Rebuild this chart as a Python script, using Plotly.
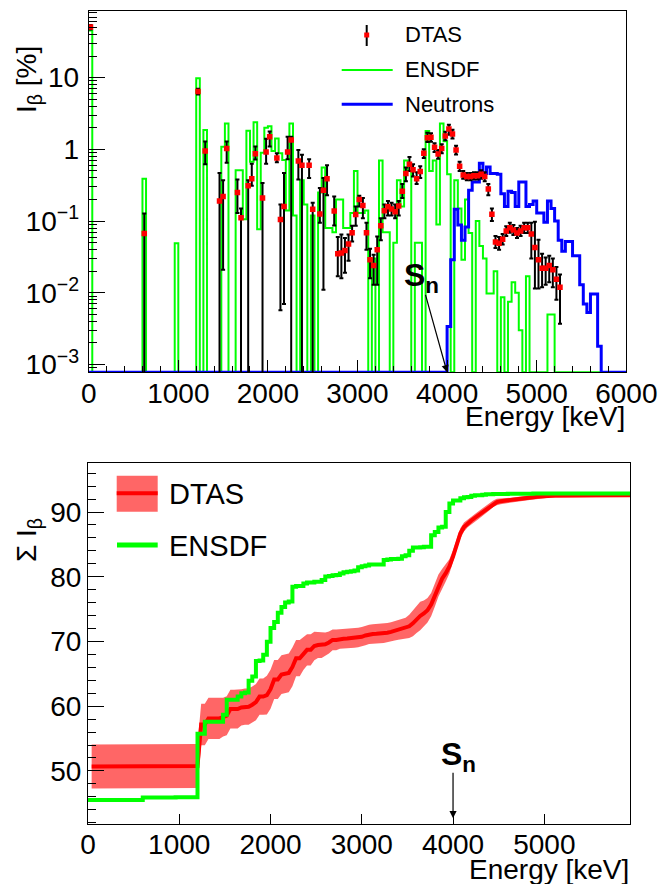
import numpy as np
import plotly.graph_objects as go

# ---------------- data ----------------
BIN_WIDTH = 40.0
N_BINS = 150
SN_ENERGY = 4000.0

# DTAS beta intensity (%) : bin centre (keV), value, lower bound, upper bound
dtas_energy = [20, 620, 1220, 1300, 1460, 1500, 1540, 1660, 1700, 1780, 1820, 1860, 1940, 1980,
               2020, 2100, 2140, 2180, 2220, 2260, 2340, 2380, 2460, 2500, 2580, 2620, 2660, 2740,
               2780, 2820, 2860, 2900, 2940, 2980, 3020, 3060, 3100, 3140, 3180, 3220, 3260, 3300,
               3340, 3380, 3420, 3460, 3500, 3540, 3580, 3620, 3660, 3700, 3740, 3780, 3820, 3860,
               3900, 3940, 3980, 4020, 4060, 4100, 4140, 4180, 4220, 4260, 4300, 4340, 4380, 4420,
               4460, 4500, 4540, 4580, 4620, 4660, 4700, 4740, 4780, 4820, 4860, 4900, 4940, 4980,
               5020, 5060, 5100, 5140, 5180, 5220, 5260]
dtas_value = [50.7, 0.067, 6.4, 0.95, 0.19, 0.22, 1.03, 0.25, 0.111, 0.31, 0.39, 0.87, 0.21, 0.92,
              1.5, 0.76, 0.105, 0.16, 0.92, 1.35, 0.69, 0.60, 0.60, 0.146, 0.126, 0.27, 0.39, 0.138,
              0.035, 0.036, 0.039, 0.048, 0.069, 0.124, 0.20, 0.165, 0.069, 0.029, 0.024, 0.040, 0.086, 0.139,
              0.158, 0.148, 0.135, 0.162, 0.26, 0.46, 0.62, 0.52, 0.39, 0.49, 0.88, 1.45, 1.48, 1.07,
              0.86, 1.03, 1.54, 1.92, 1.64, 0.98, 0.58, 0.44, 0.42, 0.42, 0.43, 0.43, 0.45, 0.42,
              0.28, 0.125, 0.051, 0.049, 0.056, 0.073, 0.081, 0.075, 0.068, 0.073, 0.081, 0.081, 0.066, 0.043,
              0.029, 0.022, 0.022, 0.024, 0.021, 0.0155, 0.012]
dtas_low = [47.0, 0.0, 5.8, 0.62, 0.0, 0.021, 0.65, 0.13, 0.0, 0.0, 0.31, 0.72, 0.0, 0.63,
            1.1, 0.66, 0.0057, 0.007, 0.73, 0.0, 0.38, 0.0, 0.40, 0.0, 0.095, 0.011, 0.23, 0.087,
            0.017, 0.016, 0.019, 0.028, 0.052, 0.086, 0.16, 0.11, 0.04, 0.016, 0.013, 0.013, 0.054, 0.11,
            0.12, 0.12, 0.11, 0.12, 0.21, 0.36, 0.50, 0.42, 0.33, 0.40, 0.76, 1.27, 1.28, 0.92,
            0.74, 0.88, 1.34, 1.6, 1.42, 0.85, 0.50, 0.39, 0.37, 0.37, 0.38, 0.38, 0.39, 0.36,
            0.23, 0.10, 0.042, 0.040, 0.047, 0.062, 0.069, 0.064, 0.058, 0.062, 0.068, 0.068, 0.030, 0.0115,
            0.0115, 0.012, 0.013, 0.014, 0.012, 0.008, 0.0037]
dtas_high = [54.0, 0.128, 7.0, 1.29, 0.47, 0.37, 1.29, 0.38, 0.15, 0.37, 0.63, 1.1, 0.34, 1.41,
             1.77, 0.88, 0.17, 0.47, 1.5, 1.5, 0.98, 0.84, 0.73, 0.18, 0.29, 0.40, 0.60, 0.22,
             0.06, 0.065, 0.058, 0.065, 0.086, 0.16, 0.225, 0.21, 0.095, 0.041, 0.034, 0.061, 0.11, 0.17,
             0.19, 0.18, 0.17, 0.19, 0.33, 0.56, 0.78, 0.62, 0.48, 0.58, 1.0, 1.7, 1.68, 1.22,
             0.98, 1.18, 1.76, 2.2, 1.88, 1.12, 0.67, 0.50, 0.47, 0.47, 0.48, 0.48, 0.51, 0.48,
             0.33, 0.15, 0.062, 0.060, 0.066, 0.085, 0.095, 0.088, 0.080, 0.086, 0.095, 0.095, 0.095, 0.098,
             0.055, 0.035, 0.031, 0.033, 0.030, 0.023, 0.018]
# uncertainty of the cumulative DTAS intensity at each DTAS bin
dtas_cum_err = [3.4, 3.4, 3.2, 3.2, 3.0, 3.0, 3.0, 2.8, 2.8, 2.8, 2.8, 2.8, 3.0, 3.0,
                3.0, 3.0, 3.0, 3.0, 3.0, 2.8, 2.5, 2.4, 2.2, 2.0, 1.8, 1.7, 1.6, 1.5,
                1.5, 1.5, 1.5, 1.5, 1.5, 1.5, 1.5, 1.5, 1.5, 1.5, 1.5, 1.5, 1.5, 1.5,
                1.5, 1.5, 1.5, 1.6, 1.8, 2.0, 2.1, 2.2, 2.0, 1.9, 1.8, 1.8, 1.7, 1.5,
                1.3, 1.1, 1.0, 0.9, 0.8, 0.7, 0.6, 0.6, 0.6, 0.6, 0.6, 0.6, 0.55, 0.5,
                0.5, 0.45, 0.4, 0.4, 0.4, 0.4, 0.4, 0.35, 0.35, 0.35, 0.35, 0.35, 0.35, 0.35,
                0.3, 0.3, 0.3, 0.3, 0.3, 0.3, 0.3]

# ENSDF beta intensity (%) : bin lower edge (keV), value
ensdf_energy = [0, 600, 960, 1200, 1280, 1480, 1520, 1640, 1680, 1720, 1760, 1800, 1840, 1880, 1920,
                1960, 2000, 2040, 2080, 2120, 2160, 2200, 2240, 2280, 2360, 2400, 2480, 2560, 2600,
                2640, 2680, 2720, 2760, 2800, 2840, 2880, 2920, 2960, 3000, 3040, 3080, 3160, 3240,
                3280, 3320, 3400, 3440, 3480, 3520, 3560, 3640, 3680, 3760, 3800, 3840, 3880, 3920,
                3960, 4000, 4080, 4120, 4160, 4200, 4240, 4320, 4360, 4400, 4440, 4480, 4520, 4600,
                4680, 4720, 4760, 4800, 4880, 5120, 5160]
ensdf_value = [45.5, 0.39, 0.049, 9.8, 1.86, 1.09, 2.3, 0.51, 0.51, 0.106, 1.82, 0.67, 2.38, 0.077, 0.9,
               2.0, 2.1, 0.95, 1.42, 0.88, 0.71, 0.14, 2.3, 0.12, 0.37, 0.17, 0.12, 0.25, 0.56,
               0.08, 0.08, 0.07, 0.2, 0.2, 0.08, 0.08, 0.13, 0.5, 0.13, 0.13, 0.14, 0.03, 0.7,
               0.07, 0.07, 0.05, 0.37, 0.16, 0.7, 0.5, 0.05, 0.05, 1.8, 0.5, 0.7, 0.09, 2.3,
               1.3, 0.45, 0.37, 0.15, 0.029, 0.2, 0.068, 0.1, 0.045, 0.03, 0.0098, 0.0098, 0.02, 0.0087,
               0.0075, 0.014, 0.01, 0.003, 0.017, 0.005, 0.005]

# beta-delayed neutron intensity (%) : bin lower edge (keV), value
neutron_energy = [4000, 4040, 4080, 4120, 4160, 4200, 4240, 4280, 4320, 4360, 4400, 4440, 4480, 4520,
                  4560, 4600, 4640, 4680, 4720, 4760, 4800, 4840, 4880, 4920, 4960, 5000, 5040, 5080,
                  5120, 5160, 5200, 5240, 5280, 5320, 5360, 5400, 5440, 5480, 5520, 5560, 5600, 5640, 5680]
neutron_value = [0.0034, 0.029, 0.146, 0.088, 0.054, 0.083, 0.27, 0.35, 0.35, 0.64, 0.46, 0.57, 0.46, 0.46,
                 0.45, 0.24, 0.16, 0.26, 0.25, 0.16, 0.35, 0.35, 0.16, 0.17, 0.19, 0.13, 0.13, 0.096,
                 0.19, 0.15, 0.10, 0.054, 0.038, 0.052, 0.052, 0.033, 0.033, 0.013, 0.007, 0.0053, 0.0096, 0.0096, 0.0018]

# ---------------- derived ----------------
edges = np.arange(N_BINS + 1) * BIN_WIDTH
Y_LOG_MIN, Y_LOG_MAX = -3.108, 1.929
floor_val = 10 ** Y_LOG_MIN


def to_bins(energies, values, centre=False):
    arr = np.zeros(N_BINS)
    for e, v in zip(energies, values):
        idx = int(e // BIN_WIDTH) if centre else int(round(e / BIN_WIDTH))
        arr[idx] = v
    return arr


ensdf_bins = to_bins(ensdf_energy, ensdf_value)
neut_bins = to_bins(neutron_energy, neutron_value)
dtas_bins = to_bins(dtas_energy, dtas_value, centre=True)
err_bins = np.full(N_BINS, np.nan)
for e, v in zip(dtas_energy, dtas_cum_err):
    err_bins[int(e // BIN_WIDTH)] = v
last = err_bins[0]
for i in range(N_BINS):
    if np.isnan(err_bins[i]):
        err_bins[i] = last
    else:
        last = err_bins[i]


def step_vals(arr):
    v = np.where(arr > 0, arr, floor_val)
    return np.append(v, v[-1])


dv = np.array(dtas_value)
err_minus = dv - np.array(dtas_low)
err_plus = np.array(dtas_high) - dv

cum_dtas = np.cumsum(dtas_bins)
cum_ensdf = np.cumsum(ensdf_bins)

FONT = "Liberation Sans, Arial, Helvetica, sans-serif"
W, H = 659, 884

fig = go.Figure()

# ---- top panel ----
fig.add_trace(go.Scatter(x=edges, y=step_vals(ensdf_bins), mode="lines", line_shape="hv",
                         line=dict(color="#00ff00", width=2), xaxis="x", yaxis="y", showlegend=False))
fig.add_trace(go.Scatter(x=edges, y=step_vals(neut_bins), mode="lines", line_shape="hv",
                         line=dict(color="#0000ff", width=3), xaxis="x", yaxis="y", showlegend=False))
fig.add_trace(go.Scatter(x=dtas_energy, y=dtas_value, mode="markers",
                         marker=dict(symbol="square", size=5.5, color="#ff0000"),
                         error_y=dict(type="data", symmetric=False, array=err_plus, arrayminus=err_minus,
                                      color="black", thickness=2, width=2),
                         xaxis="x", yaxis="y", showlegend=False))

# ---- bottom panel ----
band_x = np.concatenate([edges[1:], edges[1:][::-1]])
band_y = np.concatenate([cum_dtas + err_bins, (cum_dtas - err_bins)[::-1]])
fig.add_trace(go.Scatter(x=band_x, y=band_y, fill="toself", mode="lines", line=dict(width=0),
                         fillcolor="rgba(255,0,0,0.6)", xaxis="x2", yaxis="y2", showlegend=False,
                         hoverinfo="skip"))
fig.add_trace(go.Scatter(x=edges[1:], y=cum_dtas, mode="lines", line=dict(color="#ff0000", width=4),
                         xaxis="x2", yaxis="y2", showlegend=False))
fig.add_trace(go.Scatter(x=edges, y=np.append(cum_ensdf, cum_ensdf[-1]), mode="lines", line_shape="hv",
                         line=dict(color="#00ff00", width=4), xaxis="x2", yaxis="y2", showlegend=False))


def px2x(px):
    return px / W


def py2y(py):
    return 1 - py / H


top_minor = [k * 10.0 ** n for n in range(-4, 2) for k in range(2, 10)]
top_minor = [v for v in top_minor if Y_LOG_MIN < np.log10(v) < Y_LOG_MAX]

axis_common = dict(showgrid=False, zeroline=False, showline=True, linecolor="black", linewidth=1,
                   mirror=True, ticks="inside", tickcolor="black", automargin=False,
                   tickfont=dict(family=FONT, size=28, color="black"))

fig.update_layout(
    template="none",
    width=W, height=H, margin=dict(l=0, r=0, t=0, b=0, pad=0), showlegend=False,
    paper_bgcolor="white", plot_bgcolor="white",
    xaxis=dict(domain=[px2x(88.7), px2x(626.3)], anchor="y", range=[0, 6000],
               tickvals=[0, 1000, 2000, 3000, 4000, 5000, 6000], ticklen=12, ticklabelstandoff=-4,
               minor=dict(dtick=200, ticks="inside", ticklen=6, tickcolor="black"), **axis_common),
    yaxis=dict(domain=[py2y(372.3), py2y(11)], anchor="x", type="log", range=[Y_LOG_MIN, Y_LOG_MAX],
               tickvals=[1e-3, 1e-2, 1e-1, 1, 10],
               ticktext=["10<sup>\u22123</sup>", "10<sup>\u22122</sup>", "10<sup>\u22121</sup>", "1", "10"],
               ticklen=16, ticklabelstandoff=3,
               minor=dict(tickmode="array", tickvals=top_minor, ticks="inside", ticklen=8, tickcolor="black"),
               **axis_common),
    xaxis2=dict(domain=[px2x(88), px2x(630)], anchor="y2", range=[0, 5939],
                tickvals=[0, 1000, 2000, 3000, 4000, 5000], ticklen=10, ticklabelstandoff=-5, **axis_common),
    yaxis2=dict(domain=[py2y(824), py2y(463)], anchor="x2", range=[41.8, 97.57],
                tickvals=[50, 60, 70, 80, 90], ticklen=16,
                minor=dict(dtick=2, ticks="inside", ticklen=8, tickcolor="black"), **axis_common),
)

shapes = []
annotations = []


def text(px, py, s, size, xanchor="left", angle=0):
    annotations.append(dict(x=px2x(px), y=py2y(py), xref="paper", yref="paper", text=s, showarrow=False,
                            xanchor=xanchor, yanchor="middle", textangle=angle,
                            font=dict(family=FONT, size=size, color="black")))


# axis titles
text(28, 80, "I<sub>\u03b2</sub> [%]", 28, xanchor="center", angle=-90)
text(28, 540, "\u03a3 I<sub>\u03b2</sub>", 28, xanchor="center", angle=-90)
text(627, 416, "Energy [keV]", 28, xanchor="right")
text(631, 869, "Energy [keV]", 28, xanchor="right")

# top legend
shapes.append(dict(type="line", xref="paper", yref="paper", x0=px2x(366.7), x1=px2x(366.7),
                   y0=py2y(25), y1=py2y(46), line=dict(color="black", width=2)))
shapes.append(dict(type="rect", xref="paper", yref="paper", x0=px2x(364.2), x1=px2x(369.2),
                   y0=py2y(32.5), y1=py2y(37.5), fillcolor="#ff0000", line=dict(width=0)))
shapes.append(dict(type="line", xref="paper", yref="paper", x0=px2x(341.7), x1=px2x(392.7),
                   y0=py2y(70), y1=py2y(70), line=dict(color="#00ff00", width=2)))
shapes.append(dict(type="line", xref="paper", yref="paper", x0=px2x(341.7), x1=px2x(392.7),
                   y0=py2y(104.3), y1=py2y(104.3), line=dict(color="#0000ff", width=3)))
text(403, 35, "DTAS", 22)
text(403, 70, "ENSDF", 22)
text(403, 104.5, "Neutrons", 22)

# bottom legend
shapes.append(dict(type="rect", xref="paper", yref="paper", x0=px2x(116.7), x1=px2x(157.7),
                   y0=py2y(511.7), y1=py2y(475.7), fillcolor="rgba(255,0,0,0.6)", line=dict(width=0)))
shapes.append(dict(type="line", xref="paper", yref="paper", x0=px2x(116.7), x1=px2x(157.7),
                   y0=py2y(493.3), y1=py2y(493.3), line=dict(color="#ff0000", width=4)))
shapes.append(dict(type="line", xref="paper", yref="paper", x0=px2x(117), x1=px2x(157.7),
                   y0=py2y(545), y1=py2y(545), line=dict(color="#00ff00", width=5)))
text(166.7, 494, "DTAS", 29)
text(166.7, 546, "ENSDF", 29)

# S_n markers
text(422, 277, "<b>S<sub>n</sub></b>", 32, xanchor="center")
text(458, 756, "<b>S<sub>n</sub></b>", 32, xanchor="center")
annotations.append(dict(x=SN_ENERGY, y=Y_LOG_MIN, xref="x", yref="y", text="", showarrow=True,
                        ax=-22, ay=-79, axref="pixel", ayref="pixel", arrowhead=2, arrowsize=1.2,
                        arrowwidth=1.2, arrowcolor="black"))
annotations.append(dict(x=SN_ENERGY, y=42.7, xref="x2", yref="y2", text="", showarrow=True,
                        ax=0, ay=-47, axref="pixel", ayref="pixel", arrowhead=2, arrowsize=1.2,
                        arrowwidth=1.2, arrowcolor="black"))

fig.update_layout(shapes=shapes, annotations=annotations)
fig.write_html("out.html")
